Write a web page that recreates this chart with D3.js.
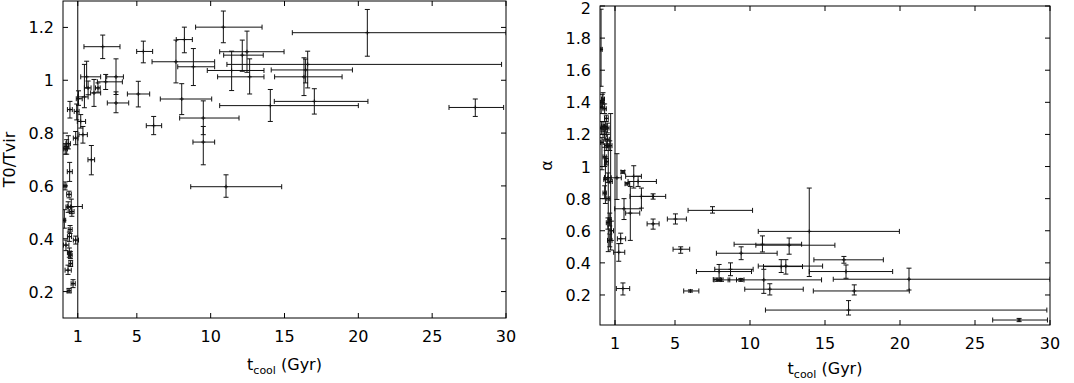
<!DOCTYPE html>
<html lang="en">
<head>
<meta charset="UTF-8">
<title>T0/Tvir and alpha vs cooling time</title>
<script src="https://d3js.org/d3.v7.min.js"></script>
<style>
  body { margin: 0; background: #fff; }
  svg { display: block; font-family: "DejaVu Sans", "Liberation Sans", Arial, sans-serif; }
  .tick-label { font-size: 16px; fill: #000; }
  .axis-title { font-size: 16px; fill: #000; }
</style>
</head>
<body>
<div id="chart"></div>
<script>
// x ticks shared by both panels (Gyr)
const tcoolTicks = [1, 5, 10, 15, 20, 25, 30];
const t0Ticks = [0.2, 0.4, 0.6, 0.8, 1, 1.2];
const alphaTicks = [0.2, 0.4, 0.6, 0.8, 1, 1.2, 1.4, 1.6, 1.8, 2];

// [tcool, tcool low, tcool high, T0/Tvir, low, high]
const t0Points = [
  [10.86, 8.98, 13.48, 1.201, 1.142, 1.262],
  [20.61, 15.53, 30.0, 1.180, 1.091, 1.268],
  [8.22, 7.67, 8.76, 1.154, 1.104, 1.201],
  [2.69, 1.42, 3.86, 1.127, 1.082, 1.171],
  [5.44, 4.99, 6.07, 1.109, 1.066, 1.148],
  [12.14, 10.88, 13.56, 1.095, 1.034, 1.152],
  [12.46, 10.61, 14.97, 1.108, 1.030, 1.186],
  [7.65, 6.03, 10.27, 1.070, 0.990, 1.152],
  [8.83, 7.77, 10.27, 1.051, 0.980, 1.120],
  [11.42, 9.77, 13.61, 1.037, 0.961, 1.110],
  [12.64, 10.47, 13.61, 1.013, 0.948, 1.081],
  [16.57, 11.1, 29.7, 1.060, 0.971, 1.110],
  [16.32, 14.33, 18.9, 1.013, 0.942, 1.085],
  [16.43, 14.1, 19.6, 1.039, 0.990, 1.080],
  [14.04, 10.61, 20.0, 0.904, 0.844, 0.965],
  [17.02, 14.31, 20.65, 0.920, 0.872, 0.968],
  [27.92, 26.14, 29.84, 0.897, 0.863, 0.929],
  [8.04, 6.59, 10.07, 0.929, 0.870, 0.987],
  [9.5, 7.9, 11.92, 0.857, 0.794, 0.922],
  [9.5, 8.8, 10.27, 0.766, 0.680, 0.825],
  [11.04, 8.65, 14.81, 0.597, 0.557, 0.642],
  [6.14, 5.64, 6.68, 0.828, 0.794, 0.863],
  [5.10, 4.36, 5.87, 0.948, 0.899, 0.996],
  [3.59, 2.96, 4.09, 1.013, 0.946, 1.081],
  [3.59, 3.0, 4.45, 0.914, 0.877, 0.956],
  [1.6, 1.2, 2.55, 1.013, 0.971, 1.072],
  [2.89, 2.33, 4.02, 0.994, 0.965, 1.022],
  [1.7, 1.45, 1.9, 0.971, 0.945, 0.997],
  [2.37, 2.2, 2.52, 0.971, 0.955, 0.990],
  [2.1, 1.87, 2.55, 0.952, 0.901, 1.003],
  [1.45, 1.0, 1.7, 0.937, 0.896, 1.060],
  [1.05, 0.9, 1.3, 0.930, 0.905, 0.960],
  [1.2, 0.97, 1.53, 0.844, 0.819, 0.870],
  [1.35, 1.08, 1.65, 0.794, 0.762, 0.825],
  [0.93, 0.76, 1.09, 0.882, 0.850, 0.910],
  [0.86, 0.7, 1.02, 0.781, 0.756, 0.806],
  [1.92, 1.69, 2.14, 0.699, 0.642, 0.753],
  [0.47, 0.3, 0.63, 0.889, 0.857, 0.920],
  [0.25, 0.07, 0.41, 0.749, 0.720, 0.775],
  [0.36, 0.2, 0.5, 0.760, 0.740, 0.790],
  [0.45, 0.29, 0.63, 0.654, 0.617, 0.689],
  [0.14, 0.05, 0.25, 0.600, 0.585, 0.615],
  [0.41, 0.25, 0.56, 0.568, 0.555, 0.580],
  [0.56, 0.29, 1.31, 0.522, 0.495, 0.550],
  [0.6, 0.45, 0.75, 0.503, 0.485, 0.520],
  [0.09, 0.0, 0.18, 0.470, 0.440, 0.510],
  [0.48, 0.35, 0.62, 0.435, 0.420, 0.450],
  [0.43, 0.3, 0.58, 0.408, 0.390, 0.425],
  [0.86, 0.7, 1.05, 0.395, 0.380, 0.410],
  [0.2, 0.03, 0.4, 0.376, 0.355, 0.395],
  [0.43, 0.3, 0.55, 0.347, 0.330, 0.365],
  [0.5, 0.38, 0.62, 0.338, 0.325, 0.352],
  [0.52, 0.4, 0.65, 0.306, 0.295, 0.318],
  [0.34, 0.14, 0.56, 0.281, 0.265, 0.300],
  [0.68, 0.55, 0.83, 0.230, 0.215, 0.245],
  [0.41, 0.28, 0.55, 0.203, 0.195, 0.212],
  [0.35, 0.2, 0.5, 0.520, 0.500, 0.540],
  [0.15, 0.05, 0.3, 0.740, 0.720, 0.760]
];

// [tcool, tcool low, tcool high, alpha, low, high]
const alphaPoints = [
  [27.94, 26.18, 29.83, 0.044, 0.034, 0.054],
  [16.57, 11.03, 29.79, 0.106, 0.075, 0.165],
  [20.6, 15.55, 30.0, 0.298, 0.231, 0.367],
  [16.95, 14.22, 20.62, 0.225, 0.200, 0.263],
  [16.4, 13.95, 19.51, 0.346, 0.304, 0.387],
  [16.26, 14.26, 18.89, 0.419, 0.398, 0.440],
  [13.95, 10.55, 19.96, 0.596, 0.315, 0.866],
  [12.61, 10.39, 15.66, 0.510, 0.454, 0.555],
  [10.83, 8.94, 13.44, 0.516, 0.468, 0.568],
  [9.41, 7.76, 11.81, 0.460, 0.420, 0.500],
  [12.08, 10.9, 13.5, 0.377, 0.340, 0.420],
  [12.39, 10.55, 14.84, 0.380, 0.330, 0.420],
  [8.7, 7.65, 10.21, 0.360, 0.320, 0.400],
  [7.94, 6.43, 10.1, 0.346, 0.290, 0.390],
  [10.92, 8.54, 14.77, 0.294, 0.210, 0.360],
  [8.1, 7.6, 8.65, 0.294, 0.285, 0.305],
  [9.39, 9.1, 9.6, 0.294, 0.285, 0.303],
  [7.8, 7.55, 8.05, 0.296, 0.285, 0.305],
  [11.32, 9.65, 13.55, 0.236, 0.200, 0.270],
  [6.03, 5.58, 6.59, 0.225, 0.218, 0.232],
  [5.38, 4.87, 5.98, 0.485, 0.460, 0.500],
  [5.03, 4.49, 5.76, 0.673, 0.642, 0.705],
  [7.5, 5.87, 10.17, 0.727, 0.710, 0.750],
  [3.54, 3.14, 3.94, 0.643, 0.610, 0.673],
  [3.54, 2.76, 4.38, 0.814, 0.797, 0.830],
  [2.76, 2.0, 3.54, 0.814, 0.741, 0.866],
  [2.54, 1.87, 3.76, 0.907, 0.876, 0.940],
  [2.25, 1.71, 2.76, 0.939, 0.866, 1.005],
  [1.82, 1.67, 1.98, 0.893, 0.885, 0.900],
  [1.53, 1.4, 1.65, 0.966, 0.958, 0.975],
  [2.02, 1.71, 2.65, 0.710, 0.540, 0.876],
  [1.6, 0.98, 2.76, 0.737, 0.670, 0.800],
  [1.38, 1.16, 1.71, 0.550, 0.520, 0.585],
  [1.25, 0.91, 1.65, 0.466, 0.410, 0.520],
  [1.53, 1.09, 1.98, 0.240, 0.200, 0.275],
  [1.13, 0.31, 1.42, 0.930, 0.795, 1.080],
  [0.53, 0.3, 0.75, 0.930, 0.900, 0.960],
  [0.07, 0.0, 0.15, 1.730, 1.500, 1.980],
  [0.15, 0.05, 0.25, 1.400, 1.370, 1.450],
  [0.2, 0.1, 0.3, 1.420, 1.390, 1.460],
  [0.08, 0.0, 0.18, 1.370, 1.330, 1.410],
  [0.31, 0.2, 0.42, 1.360, 1.330, 1.390],
  [0.09, 0.0, 0.2, 1.240, 1.200, 1.280],
  [0.2, 0.1, 0.3, 1.250, 1.220, 1.280],
  [0.35, 0.25, 0.45, 1.250, 1.220, 1.280],
  [0.42, 0.3, 0.55, 1.300, 1.280, 1.320],
  [0.49, 0.38, 0.6, 1.240, 1.210, 1.270],
  [0.31, 0.2, 0.42, 1.200, 1.170, 1.230],
  [0.49, 0.35, 0.62, 1.170, 1.140, 1.200],
  [0.13, 0.02, 0.22, 1.150, 0.980, 1.180],
  [0.42, 0.3, 0.55, 1.130, 1.100, 1.160],
  [0.65, 0.5, 0.8, 1.130, 1.100, 1.160],
  [0.31, 0.2, 0.42, 1.060, 1.000, 1.120],
  [0.42, 0.3, 0.55, 1.030, 1.010, 1.050],
  [0.36, 0.25, 0.48, 0.920, 0.770, 1.060],
  [0.31, 0.2, 0.42, 0.835, 0.800, 0.880],
  [0.65, 0.55, 0.75, 0.670, 0.630, 0.710],
  [0.53, 0.42, 0.65, 0.650, 0.610, 0.680],
  [0.76, 0.6, 0.9, 0.600, 0.540, 0.660],
  [0.65, 0.5, 0.8, 0.540, 0.500, 0.580],
  [0.71, 0.6, 0.82, 0.907, 0.480, 1.330],
  [0.55, 0.45, 0.65, 0.800, 0.470, 1.130]
];

const W = 1074, H = 383;
const svg = d3.select("#chart").append("svg").attr("width", W).attr("height", H);

function panel(cfg) {
  const x = d3.scaleLinear().domain([0, 30]).range([cfg.left, cfg.right]);
  const y = d3.scaleLinear().domain(cfg.yDomain).range([cfg.bottom, cfg.top]);
  const g = svg.append("g");

  const clipId = "clip-" + cfg.id;
  svg.append("clipPath").attr("id", clipId).append("rect")
    .attr("x", cfg.left).attr("y", cfg.top)
    .attr("width", cfg.right - cfg.left).attr("height", cfg.bottom - cfg.top);

  const tl = 5;
  // ticks on all four sides, pointing inward
  g.selectAll(".xt").data(cfg.xTicks).enter().append("path")
    .attr("d", d => `M${x(d)},${cfg.bottom}v${-tl}M${x(d)},${cfg.top}v${tl}`)
    .attr("stroke", "#000");
  g.selectAll(".yt").data(cfg.yTicks).enter().append("path")
    .attr("d", d => `M${cfg.left},${y(d)}h${tl}M${cfg.right},${y(d)}h${-tl}`)
    .attr("stroke", "#000");

  g.selectAll(".xl").data(cfg.xTicks).enter().append("text")
    .attr("class", "tick-label")
    .attr("x", d => x(d)).attr("y", cfg.bottom + 24)
    .attr("text-anchor", "middle")
    .text(d => d);
  // top label kept just inside the window
  g.selectAll(".yl").data(cfg.yTicks).enter().append("text")
    .attr("class", "tick-label")
    .attr("x", cfg.left - 9).attr("y", d => Math.max(y(d) + 6, 14))
    .attr("text-anchor", "end")
    .text(d => d3.format("~g")(d));

  // vertical line at tcool = 1 Gyr
  g.append("line")
    .attr("x1", x(1)).attr("x2", x(1))
    .attr("y1", cfg.top).attr("y2", cfg.bottom)
    .attr("stroke", "#000");

  const marks = g.append("g").attr("clip-path", `url(#${clipId})`)
    .attr("stroke", "#111").attr("fill", "none").attr("stroke-width", 1);
  const cap = 2.5;
  marks.selectAll("path").data(cfg.data).enter().append("path")
    .attr("d", d => {
      const cx = x(d[0]), cy = y(d[3]);
      const xa = x(d[1]), xb = x(d[2]), ya = y(d[4]), yb = y(d[5]);
      return `M${xa},${cy}H${xb}` +
        `M${xa},${cy - cap}V${cy + cap}M${xb},${cy - cap}V${cy + cap}` +
        `M${cx},${ya}V${yb}` +
        `M${cx - cap},${ya}H${cx + cap}M${cx - cap},${yb}H${cx + cap}` +
        `M${cx - 2},${cy}H${cx + 2}M${cx},${cy - 2}V${cy + 2}`;
    });

  g.append("rect")
    .attr("x", cfg.left).attr("y", cfg.top)
    .attr("width", cfg.right - cfg.left).attr("height", cfg.bottom - cfg.top)
    .attr("fill", "none").attr("stroke", "#000");

  // x title with subscript
  const xt = g.append("text").attr("class", "axis-title")
    .attr("x", (cfg.left + cfg.right) / 2).attr("y", cfg.bottom + cfg.xTitleDy)
    .attr("text-anchor", "middle");
  xt.append("tspan").text("t");
  xt.append("tspan").attr("dy", 4).attr("font-size", 11).text("cool");
  xt.append("tspan").attr("dy", -4).text(" (Gyr)");

  g.append("text").attr("class", "axis-title")
    .attr("transform", `translate(${cfg.yTitleX},${(cfg.top + cfg.bottom) / 2}) rotate(-90)`)
    .attr("text-anchor", "middle")
    .text(cfg.yTitle);
}

panel({
  id: "t0", left: 63, right: 506, top: 1, bottom: 318,
  yDomain: [0.1, 1.3], xTicks: tcoolTicks, yTicks: t0Ticks,
  data: t0Points, yTitle: "T0/Tvir", yTitleX: 15, xTitleDy: 52
});

panel({
  id: "alpha", left: 600, right: 1050, top: 6, bottom: 325,
  yDomain: [0.013, 2], xTicks: tcoolTicks, yTicks: alphaTicks,
  data: alphaPoints, yTitle: "α", yTitleX: 552, xTitleDy: 49
});
</script>
</body>
</html>
